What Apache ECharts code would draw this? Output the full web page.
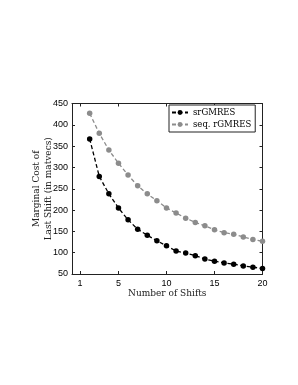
<!DOCTYPE html>
<html><head><meta charset="utf-8">
<script src="https://cdn.jsdelivr.net/npm/echarts@6/dist/echarts.min.js"></script>
<style>html,body{margin:0;padding:0;background:#fff}#c{width:298px;height:385px}</style>
</head><body><div id="c"></div>
<script>
var shifts = [2,3,4,5,6,7,8,9,10,11,12,13,14,15,16,17,18,19,20];
var srGMRES = [367,279,238,205,177,155,141,128,116,104,99,93,85,80,76,73,69,66,63];
var seqRGMRES = [427,380,341,310,282,257,238,222,205,193,181,171,163,154,147,143,137,131,127];
var xTicks = [1,5,10,15,20];
var seriesNames = ['srGMRES','seq. rGMRES'];
var serif = "'DejaVu Serif', 'Liberation Serif', serif";
var sans = "'Liberation Sans', Arial, sans-serif";

function pairs(ys){ return shifts.map(function(x,i){return [x, ys[i]];}); }

var chart = echarts.init(document.getElementById('c'), null, {renderer:'canvas'});
var axisLine = {show:true, lineStyle:{color:'#222', width:1}};
chart.setOption({
  backgroundColor:'#fff',
  animation:false,
  grid:{left:72, right:35.5, top:103.5, bottom:111, show:false},
  legend:{
    orient:'vertical', left:169, top:105, padding:[3,4,3,2], itemGap:3,
    itemWidth:16, itemHeight:6,
    backgroundColor:'#fff', borderColor:'#222', borderWidth:1, borderRadius:0,
    textStyle:{fontFamily:serif, fontSize:8.5, color:'#000'},
    data:seriesNames
  },
  xAxis:[{
    type:'value', min:0.16, max:20,
    axisLine:axisLine,
    splitLine:{show:false},
    axisTick:{inside:true, length:3, lineStyle:{color:'#222'}, customValues:xTicks},
    axisLabel:{customValues:xTicks, fontFamily:sans, fontSize:9, color:'#000', margin:5},
    name:'Number of Shifts', nameLocation:'middle', nameGap:14,
    nameTextStyle:{fontFamily:serif, fontSize:9, color:'#222'}
  },{
    type:'value', min:0.16, max:20, position:'top',
    axisLine:axisLine, splitLine:{show:false},
    axisTick:{inside:true, length:3, lineStyle:{color:'#222'}, customValues:xTicks},
    axisLabel:{show:false}
  }],
  yAxis:[{
    type:'value', min:50, max:450, interval:50,
    axisLine:axisLine, splitLine:{show:false},
    axisTick:{show:true, inside:true, length:3, lineStyle:{color:'#222'}},
    axisLabel:{fontFamily:sans, fontSize:9, color:'#000', margin:4},
    name:'Marginal Cost of\nLast Shift (in matvecs)', nameLocation:'middle', nameGap:17.5,
    nameMoveOverlap:false,
    nameRotate:90,
    nameTextStyle:{fontFamily:serif, fontSize:9, color:'#222', lineHeight:12}
  },{
    type:'value', min:50, max:450, interval:50, position:'right',
    axisLine:axisLine, splitLine:{show:false},
    axisTick:{show:true, inside:true, length:3, lineStyle:{color:'#222'}},
    axisLabel:{show:false}
  }],
  series:[{
    name:seriesNames[0], type:'line', data:pairs(srGMRES),
    symbol:'circle', symbolSize:5.5, showSymbol:true,
    lineStyle:{color:'#000', width:1.3, type:[4,2.5]},
    itemStyle:{color:'#000'}
  },{
    name:seriesNames[1], type:'line', data:pairs(seqRGMRES),
    symbol:'circle', symbolSize:5.5, showSymbol:true,
    lineStyle:{color:'#8c8c8c', width:1.3, type:[4,2.5]},
    itemStyle:{color:'#8c8c8c'}
  }]
});
</script></body></html>
